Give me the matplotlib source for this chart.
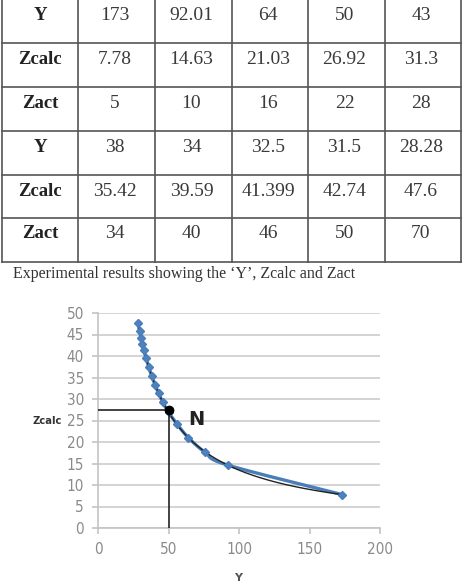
import numpy as np
import matplotlib
matplotlib.use("Agg")
import matplotlib.pyplot as plt

# table values (two blocks of 5 columns)
row_labels = ["Y", "Zcalc", "Zact", "Y", "Zcalc", "Zact"]
y_block1 = [173, 92.01, 64, 50, 43]
zcalc_block1 = [7.78, 14.63, 21.03, 26.92, 31.3]
zact_block1 = [5, 10, 16, 22, 28]
y_block2 = [38, 34, 32.5, 31.5, 28.28]
zcalc_block2 = [35.42, 39.59, 41.399, 42.74, 47.6]
zact_block2 = [34, 40, 46, 50, 70]
caption = "Experimental results showing the \u2018Y\u2019, Zcalc and Zact"

# points (blue series)
chart_y = [173, 92.01, 76, 64, 56, 50, 46, 43, 40.5, 38, 36, 34, 32.5, 31.5, 30.5, 29.5, 28.28]
chart_z = [7.78, 14.63, 17.6, 21.03, 24.2, 26.92, 29.2, 31.3, 33.3, 35.42, 37.4, 39.59, 41.399, 42.74, 44.2, 45.7, 47.6]
point_n = (50.5, 27.4)

fig = plt.figure(figsize=(4.63, 5.85), dpi=100)

# ---- table drawn in pixel coordinates ----
bg = fig.add_axes([0, 0, 1, 1])
bg.set_xlim(0, 463)
bg.set_ylim(585, 0)
bg.axis("off")

col_edges = [2, 78, 155, 232, 308, 385, 461]
row_edges = [-1, 43, 87, 131, 175, 218, 262]
for x in col_edges:
    bg.plot([x, x], [row_edges[0], row_edges[-1]], color="#555555", lw=1.2)
for y in row_edges:
    bg.plot([col_edges[0], col_edges[-1]], [y, y], color="#555555", lw=1.2)

rows = [y_block1, zcalc_block1, zact_block1, y_block2, zcalc_block2, zact_block2]
for r, (lab, vals) in enumerate(zip(row_labels, rows)):
    ty = row_edges[r] + 16
    bg.text((col_edges[0] + col_edges[1]) / 2, ty, lab, ha="center", va="center",
            family="Liberation Serif", fontsize=13.5, fontweight="bold", color="#222222")
    for c, v in enumerate(vals):
        bg.text((col_edges[c + 1] + col_edges[c + 2]) / 2 - 2, ty, str(v), ha="center", va="center",
                family="Liberation Serif", fontsize=14, color="#3a3a3a")

bg.text(13, 274, caption, ha="left", va="center", family="Liberation Serif",
        fontsize=11.5, color="#333333")

# ---- chart ----
ax = fig.add_axes([98 / 463, 57 / 585, 282 / 463, 215 / 585])
ax.set_xlim(0, 200)
ax.set_ylim(0, 50)
ax.set_yticks(np.arange(0, 51, 5))
ax.set_xticks([0, 50, 100, 150, 200])
ax.grid(axis="y", color="#d4d4d4", lw=1.4)
ax.set_axisbelow(True)
for s in ["top", "right"]:
    ax.spines[s].set_visible(False)
for s in ["left", "bottom"]:
    ax.spines[s].set_color("#c4c4c4")
    ax.spines[s].set_linewidth(1.2)
ax.tick_params(colors="#c4c4c4", length=4, width=1.2, pad=6)
for t in ax.get_xticklabels() + ax.get_yticklabels():
    t.set_color("#8a8a8a")
    t.set_fontsize(11)
    t.set_family("DejaVu Sans")
    t.set_stretch("condensed")

# power trendline
b, lna = np.polyfit(np.log(chart_y), np.log(chart_z), 1)
tx = np.linspace(min(chart_y), max(chart_y), 200)
ax.plot(tx, np.exp(lna) * tx ** b, color="#222222", lw=1.0, zorder=3)

# smoothed series like Excel's smoothed line
px = np.array(chart_y)
pz = np.array(chart_z)
sx, sz = [], []
t = np.linspace(0, 1, 30)
for i in range(len(px) - 1):
    p0 = np.array([px[max(i - 1, 0)], pz[max(i - 1, 0)]])
    p1 = np.array([px[i], pz[i]])
    p2 = np.array([px[i + 1], pz[i + 1]])
    p3 = np.array([px[min(i + 2, len(px) - 1)], pz[min(i + 2, len(px) - 1)]])
    c1 = p1 + (p2 - p0) / 6
    c2 = p2 - (p3 - p1) / 6
    curve = ((1 - t) ** 3)[:, None] * p1 + (3 * (1 - t) ** 2 * t)[:, None] * c1 \
        + (3 * (1 - t) * t ** 2)[:, None] * c2 + (t ** 3)[:, None] * p2
    sx.extend(curve[:, 0])
    sz.extend(curve[:, 1])
ax.plot(sx, sz, color="#4a7ebb", lw=2.4, zorder=2)
ax.plot(px, pz, ls="none", marker="D", ms=4.2, color="#4f81bd", mec="#4a7ebb", zorder=4)

# point N with guide lines
ax.plot([0, point_n[0]], [point_n[1], point_n[1]], color="#222222", lw=1.2, zorder=5)
ax.plot([point_n[0], point_n[0]], [0, point_n[1]], color="#222222", lw=1.2, zorder=5)
ax.plot(*point_n, marker="o", ms=6, color="black", zorder=6)
ax.text(70, 25.3, "N", ha="center", va="center", fontsize=14, family="DejaVu Sans",
        fontweight="bold", color="#222222")

fig.text(47 / 463, 1 - 421 / 585, "Zcalc", ha="center", va="center", fontsize=8,
         fontweight="bold", color="#333333", family="DejaVu Sans", stretch="condensed")
fig.text(238 / 463, 1 - 578 / 585, "Y", ha="center", va="center", fontsize=8,
         fontweight="bold", color="#555555", family="DejaVu Sans")

fig.savefig("out.png", dpi=100)
